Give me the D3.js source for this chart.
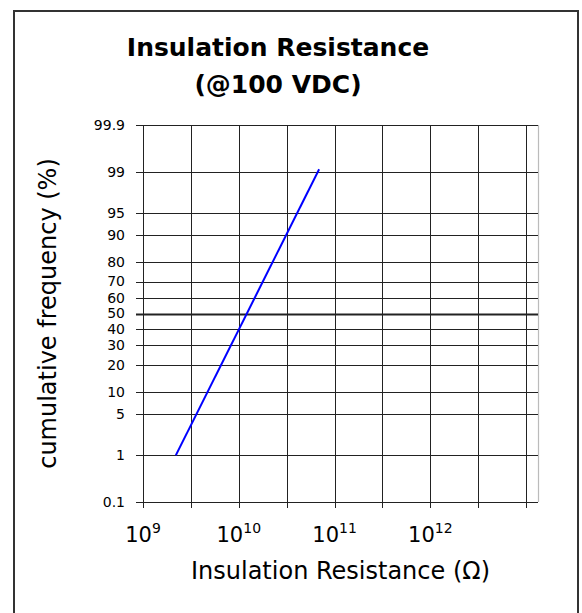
<!DOCTYPE html>
<html>
<head>
<meta charset="utf-8">
<script src="https://cdn.jsdelivr.net/npm/d3@7"></script>
<style>
  html, body { margin: 0; padding: 0; background: #fff; }
  svg { display: block; font-family: "DejaVu Sans", Verdana, sans-serif; }
</style>
</head>
<body>
<div id="chart"></div>
<script>
// Insulation resistance — probability plot (log x, normal-probability y)

const titleLines = ['Insulation Resistance', '(@100 VDC)'];
const xTitle = 'Insulation Resistance (\u03A9)';
const yTitle = 'cumulative frequency (%)';

// cumulative frequency grid (%)
const yTicks = [0.1, 1, 5, 10, 20, 30, 40, 50, 60, 70, 80, 90, 95, 99, 99.9];
const yTickLabels = ['0.1', '1', '5', '10', '20', '30', '40', '50', '60', '70', '80', '90', '95', '99', '99.9'];

// resistance grid, half decades (exponents of 10)
const xGridExp = [9, 9.5, 10, 10.5, 11, 11.5, 12, 12.5, 13];
const xLabelExp = [9, 10, 11, 12];
const xDomain = [1e9, 1.33e13];

// fitted distribution line
const resistance = [2.2e9, 6.9e10];
const cumPercent = [1.0, 99.1];

// inverse normal cdf (Acklam)
function probit(p) {
    const a = [-3.969683028665376e+01, 2.209460984245205e+02, -2.759285104469687e+02, 1.383577518672690e+02, -3.066479806614716e+01, 2.506628277459239e+00];
    const b = [-5.447609879822406e+01, 1.615858368580409e+02, -1.556989798598866e+02, 6.680131188771972e+01, -1.328068155288572e+01];
    const c = [-7.784894002430293e-03, -3.223964580411365e-01, -2.400758277161838e+00, -2.549732539343734e+00, 4.374664141464968e+00, 2.938163982698783e+00];
    const d = [7.784695709041462e-03, 3.224671290700398e-01, 2.445134137142996e+00, 3.754408661907416e+00];
    const plow = 0.02425;
    let q, r;
    if (p < plow) {
        q = Math.sqrt(-2 * Math.log(p));
        return (((((c[0] * q + c[1]) * q + c[2]) * q + c[3]) * q + c[4]) * q + c[5]) /
            ((((d[0] * q + d[1]) * q + d[2]) * q + d[3]) * q + 1);
    }
    if (p <= 1 - plow) {
        q = p - 0.5; r = q * q;
        return (((((a[0] * r + a[1]) * r + a[2]) * r + a[3]) * r + a[4]) * r + a[5]) * q /
            (((((b[0] * r + b[1]) * r + b[2]) * r + b[3]) * r + b[4]) * r + 1);
    }
    q = Math.sqrt(-2 * Math.log(1 - p));
    return -(((((c[0] * q + c[1]) * q + c[2]) * q + c[3]) * q + c[4]) * q + c[5]) /
        ((((d[0] * q + d[1]) * q + d[2]) * q + d[3]) * q + 1);
}

const W = 582, H = 613;
const plot = { left: 143, right: 538, top: 125, bottom: 502 };

const svg = d3.select('#chart').append('svg')
    .attr('width', W)
    .attr('height', H);

// outer frame
svg.append('rect')
    .attr('x', 14).attr('y', 11)
    .attr('width', 564).attr('height', 620)
    .attr('fill', 'none')
    .attr('stroke', '#333')
    .attr('stroke-width', 2);

const x = d3.scaleLog().domain(xDomain).range([plot.left, plot.right]);
const z = d3.scaleLinear().domain([probit(0.001), probit(0.999)]).range([plot.bottom, plot.top]);
const y = p => z(probit(p / 100));

// title
svg.append('text')
    .attr('text-anchor', 'middle')
    .attr('font-size', 25)
    .attr('font-weight', 'bold')
    .attr('fill', '#000')
    .selectAll('tspan')
    .data(titleLines)
    .join('tspan')
    .attr('x', 278)
    .attr('y', (d, i) => 56 + i * 37)
    .text(d => d);

const g = svg.append('g');

// vertical grid
g.selectAll('line.vgrid')
    .data(xGridExp)
    .join('line')
    .attr('class', 'vgrid')
    .attr('x1', d => Math.round(x(Math.pow(10, d))) + 0.5)
    .attr('x2', d => Math.round(x(Math.pow(10, d))) + 0.5)
    .attr('y1', plot.top)
    .attr('y2', plot.bottom + 6)
    .attr('stroke', '#222')
    .attr('stroke-width', 1);

// right edge
g.append('line')
    .attr('x1', plot.right + 0.5).attr('x2', plot.right + 0.5)
    .attr('y1', plot.top).attr('y2', plot.bottom)
    .attr('stroke', '#bbb')
    .attr('stroke-width', 1.2);

// horizontal grid
g.selectAll('line.hgrid')
    .data(yTicks)
    .join('line')
    .attr('class', 'hgrid')
    .attr('x1', plot.left - 7)
    .attr('x2', plot.right)
    .attr('y1', d => Math.round(y(d)) + 0.5)
    .attr('y2', d => Math.round(y(d)) + 0.5)
    .attr('stroke', '#222')
    .attr('stroke-width', d => d === 50 ? 2 : 1);

// left axis line
g.append('line')
    .attr('x1', plot.left + 0.5).attr('x2', plot.left + 0.5)
    .attr('y1', plot.top).attr('y2', plot.bottom + 6)
    .attr('stroke', '#222');

// y labels
const yAxis = d3.axisLeft(z)
    .tickValues(yTicks.map(p => probit(p / 100)))
    .tickFormat((d, i) => yTickLabels[i])
    .tickSize(0)
    .tickPadding(18);

svg.append('g')
    .attr('transform', `translate(${plot.left},0)`)
    .call(yAxis)
    .call(s => s.select('.domain').remove())
    .call(s => s.selectAll('text')
        .attr('font-family', '"DejaVu Sans", Verdana, sans-serif')
        .attr('font-size', 14)
        .attr('fill', '#000'));

// x labels 10^n
const xl = svg.append('g')
    .selectAll('text')
    .data(xLabelExp)
    .join('text')
    .attr('text-anchor', 'middle')
    .attr('x', d => x(Math.pow(10, d)))
    .attr('y', 542)
    .attr('fill', '#000');
xl.append('tspan').attr('font-size', 21).text('10');
xl.append('tspan').attr('font-size', 14).attr('dy', -9).text(d => d);

// axis titles
svg.append('text')
    .attr('x', (plot.left + plot.right) / 2)
    .attr('y', 579)
    .attr('text-anchor', 'middle')
    .attr('font-size', 24)
    .attr('fill', '#000')
    .text(xTitle);

svg.append('text')
    .attr('transform', `translate(56,${(plot.top + plot.bottom) / 2}) rotate(-90)`)
    .attr('text-anchor', 'middle')
    .attr('font-size', 24)
    .attr('fill', '#000')
    .text(yTitle);

// distribution line
const line = d3.line()
    .x(d => x(d[0]))
    .y(d => y(d[1]));

svg.append('path')
    .datum(d3.zip(resistance, cumPercent))
    .attr('d', line)
    .attr('fill', 'none')
    .attr('stroke', '#0000ff')
    .attr('stroke-width', 2);
</script>
</body>
</html>
